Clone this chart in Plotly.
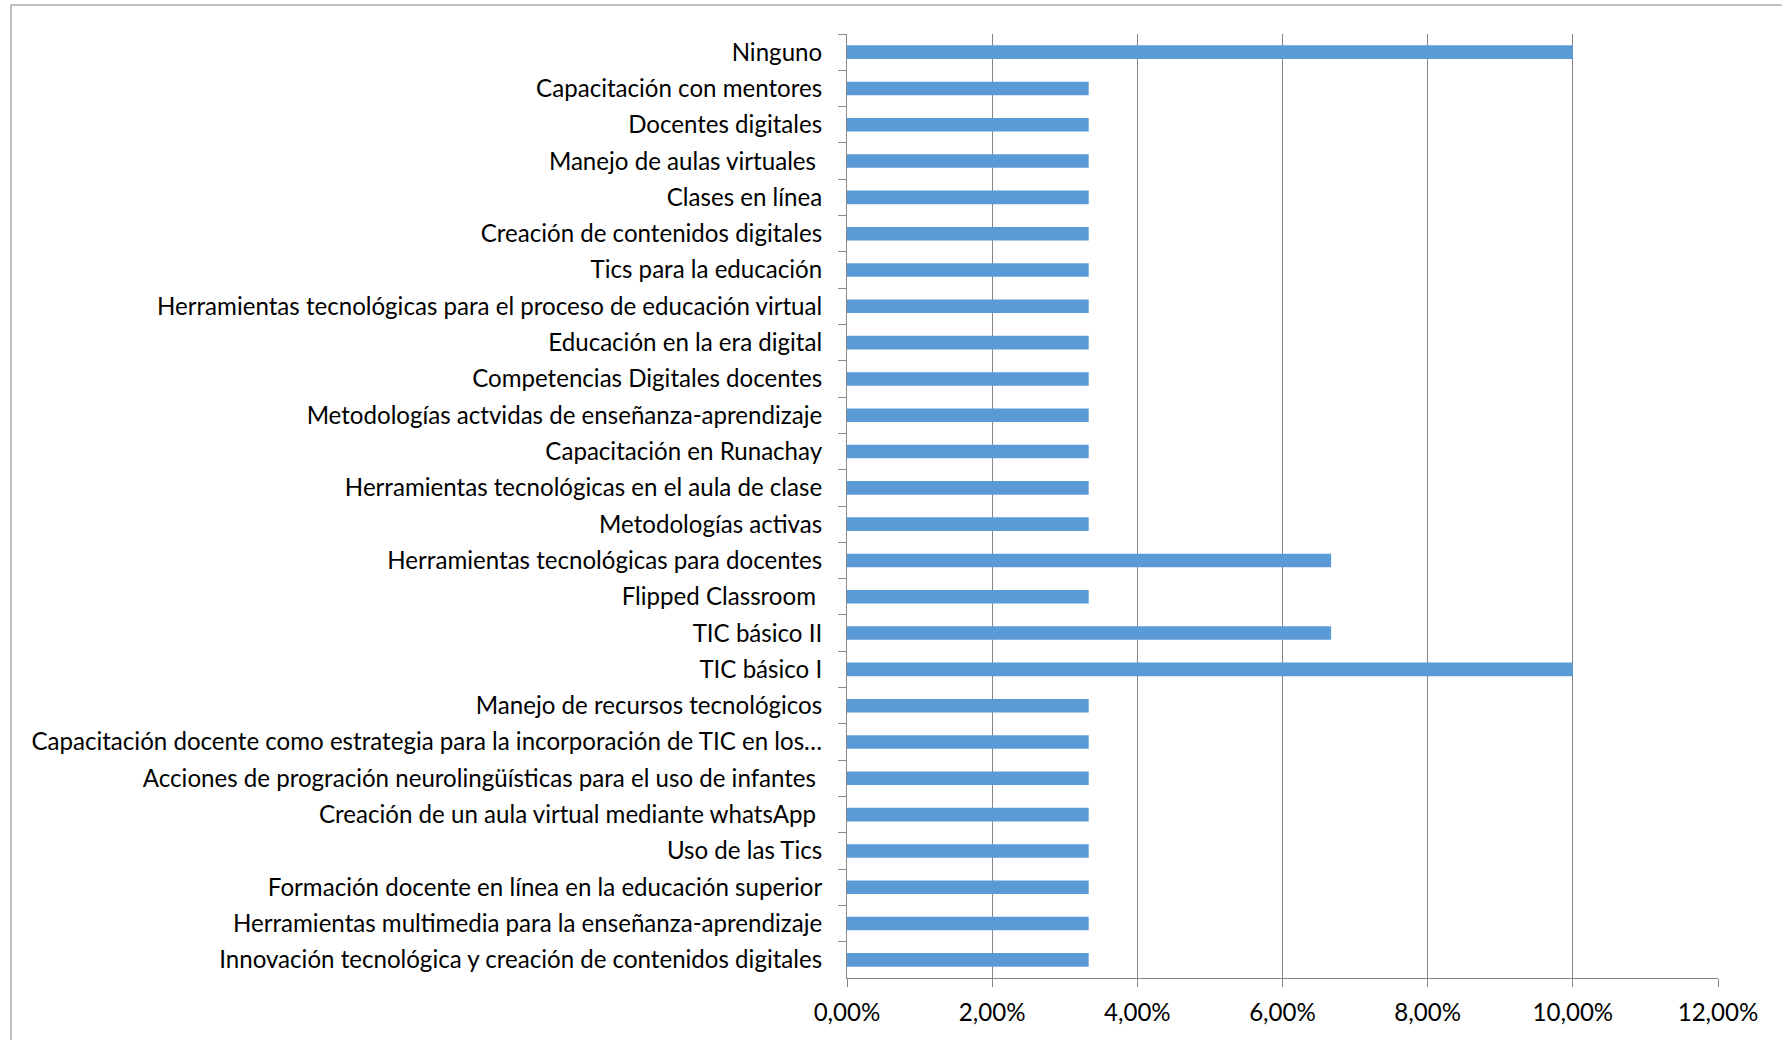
import plotly.graph_objects as go

categories = [
    "Ninguno",
    "Capacitación con mentores",
    "Docentes digitales",
    "Manejo de aulas virtuales ",
    "Clases en línea",
    "Creación de contenidos digitales",
    "Tics para la educación",
    "Herramientas tecnológicas para el proceso de educación virtual",
    "Educación en la era digital",
    "Competencias Digitales docentes",
    "Metodologías actvidas de enseñanza-aprendizaje",
    "Capacitación en Runachay",
    "Herramientas tecnológicas en el aula de clase",
    "Metodologías activas",
    "Herramientas tecnológicas para docentes",
    "Flipped Classroom ",
    "TIC básico II",
    "TIC básico I",
    "Manejo de recursos tecnológicos",
    "Capacitación docente como estrategia para la incorporación de TIC en los…",
    "Acciones de progración neurolingüísticas para el uso de infantes ",
    "Creación de un aula virtual mediante whatsApp ",
    "Uso de las Tics",
    "Formación docente en línea en la educación superior",
    "Herramientas multimedia para la enseñanza-aprendizaje",
    "Innovación tecnológica y creación de contenidos digitales",
]
values = [
    0.1000, 0.0333, 0.0333, 0.0333, 0.0333, 0.0333, 0.0333, 0.0333, 0.0333,
    0.0333, 0.0333, 0.0333, 0.0333, 0.0333, 0.0667, 0.0333, 0.0667, 0.1000,
    0.0333, 0.0333, 0.0333, 0.0333, 0.0333, 0.0333, 0.0333, 0.0333,
]
x_ticks = [0, 0.02, 0.04, 0.06, 0.08, 0.10, 0.12]

FONT = "Lato"
FS = 24.1
W, H = 1782, 1040
L, R, T, B = 847, 64, 34, 62
pw, ph = W - L - R, H - T - B

fig = go.Figure(go.Bar(
    x=values, y=categories, orientation="h",
    marker=dict(color="#5B9BD5", line=dict(width=0)),
    hoverinfo="x+y",
))

fig.update_layout(
    width=W, height=H,
    margin=dict(l=L, r=R, t=T, b=B, pad=0),
    paper_bgcolor="white", plot_bgcolor="white",
    separators=",.",
    bargap=0.626,
    showlegend=False,
    font=dict(family=FONT, size=FS, color="#000000"),
    xaxis=dict(
        range=[0, 0.12], tickvals=x_ticks, tickformat=".2%",
        showgrid=True, gridcolor="#878787", gridwidth=1,
        showline=True, linecolor="#878787", linewidth=1,
        ticks="outside", ticklen=8, tickcolor="#878787",
        zeroline=False, automargin=False, ticklabelstandoff=5,
        tickfont=dict(family=FONT, size=FS, color="#000000"),
    ),
    yaxis=dict(
        type="category", autorange="reversed",
        showgrid=False, showline=True, linecolor="#878787", linewidth=1,
        ticks="outside", ticklen=8, tickcolor="#878787", tickson="boundaries",
        automargin=False, ticklabelstandoff=19,
        tickfont=dict(family=FONT, size=FS, color="#000000"),
    ),
)

# outer chart border (cropped at right and bottom like the reference)
fig.add_shape(
    type="rect", xref="paper", yref="paper", layer="below",
    x0=(11 - L) / pw, x1=(W + 20 - L) / pw,
    y0=(H - B - (H + 20)) / ph, y1=(H - B - 5) / ph,
    line=dict(color="#ABABAB", width=1.5), fillcolor="rgba(0,0,0,0)",
)

fig.write_html(
    "out.html",
    config={"displayModeBar": False},
    post_script="document.body.style.margin='0';document.body.style.overflow='hidden';",
)
